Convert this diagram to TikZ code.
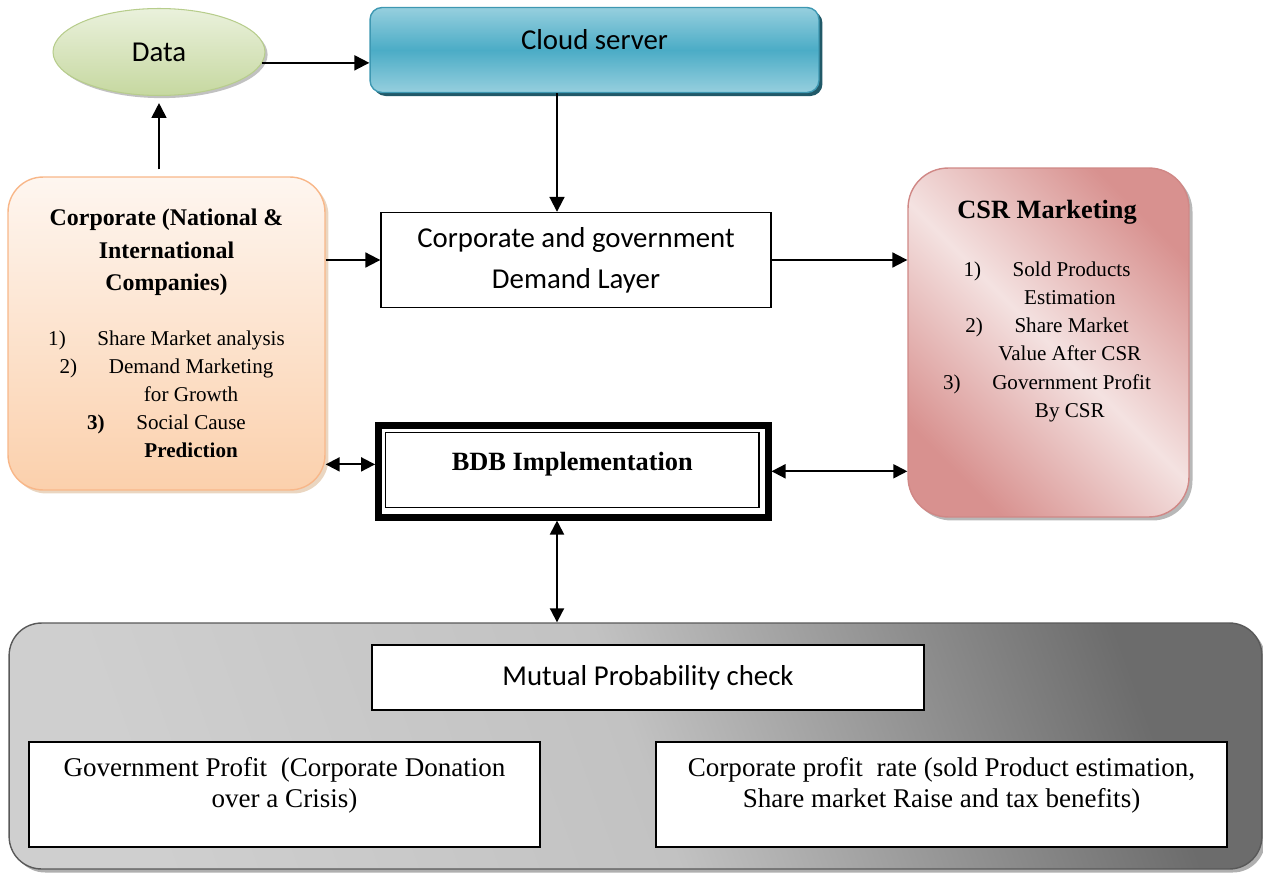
\documentclass[tikz,border=0pt]{standalone}
\usepackage{fontspec}
\setmainfont{Liberation Serif}
\setsansfont{Carlito}
\usetikzlibrary{positioning,shapes.geometric,shadows,arrows.meta}

\definecolor{datatop}{HTML}{EAF1DC}
\definecolor{databot}{HTML}{C6D8A0}
\definecolor{dataline}{HTML}{B7CD8C}
\definecolor{cloudlight}{HTML}{96CFDE}
\definecolor{cloudmid}{HTML}{4BACC6}
\definecolor{cloudline}{HTML}{3E98B2}
\definecolor{cloudshade}{HTML}{215968}
\definecolor{corptop}{HTML}{FEF6F0}
\definecolor{corpbot}{HTML}{FBD0AC}
\definecolor{corpline}{HTML}{F8B789}
\definecolor{csrdark}{HTML}{D8918F}
\definecolor{csrlight}{HTML}{F4E2E1}
\definecolor{csrline}{HTML}{D08886}
\definecolor{panellight}{HTML}{CFCFCF}
\definecolor{panelmid}{HTML}{C2C2C2}
\definecolor{paneldark}{HTML}{6C6C6C}

\newcommand{\ttl}[1]{{\fontsize{13.6}{18.4}\selectfont\bfseries #1}}
\newcommand{\csrttl}[1]{{\fontsize{15}{18}\selectfont\bfseries #1}}

\tikzset{
  edge/.style={->, >={Triangle[length=8.5pt,width=8.5pt]}, line width=1.1pt},
  both/.style={<->, >={Triangle[length=8pt,width=8pt]}, line width=1.1pt},
  sans/.style={font=\sffamily\fontsize{16.4}{23.2}\selectfont},
  serif/.style={font=\fontsize{15.4}{17.8}\selectfont},
  datanode/.style={ellipse, draw=dataline, line width=0.6pt, top color=datatop, bottom color=databot,
    drop shadow={shadow xshift=1.5pt, shadow yshift=-1.5pt, fill=gray!60, opacity=0.8},
    minimum width=4.24cm, minimum height=1.74cm, sans},
  cloudnode/.style={rectangle, rounded corners=0.24cm, draw=cloudline, line width=0.8pt,
    top color=cloudlight, bottom color=cloudlight, middle color=cloudmid,
    drop shadow={shadow xshift=2pt, shadow yshift=-2pt, fill=cloudshade, opacity=1},
    minimum width=8.98cm, minimum height=1.7cm, text height=11pt, text depth=11pt, sans},
  corpnode/.style={rectangle, rounded corners=0.7cm, draw=corpline, line width=0.8pt,
    top color=corptop, bottom color=corpbot,
    drop shadow={shadow xshift=2pt, shadow yshift=-2pt, fill=brown!40, opacity=0.8},
    minimum width=6.34cm, minimum height=6.26cm, align=center, font=\fontsize{12}{16}\selectfont},
  csrnode/.style={rectangle, rounded corners=0.8cm, draw=csrline, line width=0.8pt,
    top color=csrdark, bottom color=csrdark, middle color=csrlight, shading angle=-45,
    drop shadow={shadow xshift=2pt, shadow yshift=-2pt, fill=gray!70, opacity=0.8},
    minimum width=5.62cm, minimum height=6.98cm},
  csrtext/.style={align=center, inner sep=0pt, anchor=north, font=\fontsize{12}{16}\selectfont},
  frame/.style={rectangle, draw, line width=4pt, inner sep=0pt, minimum width=7.79cm, minimum height=1.83cm},
  bdbbox/.style={rectangle, draw, line width=0.6pt, minimum width=7.47cm, minimum height=1.5cm,
    text height=10pt, text depth=10pt, font=\fontsize{15}{18}\selectfont\bfseries},
  panel/.style={rectangle, rounded corners=0.65cm, draw=black!65, line width=0.8pt,
    left color=panellight, right color=paneldark, middle color=panelmid, shading angle=110,
    drop shadow={shadow xshift=2pt, shadow yshift=-2pt, fill=gray!70, opacity=0.9},
    minimum width=25.06cm, minimum height=4.92cm},
  plainbox/.style={rectangle, draw, fill=white, line width=0.8pt, align=center}
}

\begin{document}
\begin{tikzpicture}[x=0.02cm,y=-0.02cm]
    \useasboundingbox (0,0) rectangle (1263,875);
    % Nodes
    \node[datanode] (data) at (159,52) {Data} ; %
    \node[cloudnode] (cloud) at (594.5,50) {Cloud server} ; %
    \node[corpnode] (corp) at (166.5,333.5) {\ttl{Corporate (National \&}\\[2.4pt]
      \ttl{International}\\[2.4pt]
      \ttl{Companies)}\\[15.2pt]
      1)\hspace{1.5em}Share Market analysis\\
      2)\hspace{1.5em}Demand Marketing\\
      \hspace*{28pt}for Growth\\
      \textbf{3)}\hspace{1.5em}Social Cause\\
      \hspace*{28pt}\textbf{Prediction}} ; %
    \node[plainbox, sans, minimum width=7.8cm, minimum height=1.9cm] (dem) at (576,260) {Corporate and government\\Demand Layer} ; %
    \node[csrnode] (csr) at (1048.5,342.5) {} ; %
    \node[csrtext] (csrlist) at (1047,200) {\csrttl{CSR Marketing}\\[17pt]
      1)\hspace{1.5em}Sold Products\\
      \hspace*{26pt}Estimation\\
      2)\hspace{1.5em}Share Market\\
      \hspace*{26pt}Value After CSR\\
      3)\hspace{1.5em}Government Profit\\
      \hspace*{26pt}By CSR} ; %
    \node[frame] (bdb) at (573.3,471.3) {} ; %
    \node[bdbbox] (bdbin) at (572.3,470) {BDB Implementation} ; %
    \node[panel] (panel) at (635.5,746) {} ; %
    \node[plainbox, sans, minimum width=11.04cm, minimum height=1.3cm] (mutual) at (648,677.5) {Mutual Probability check} ; %
    \node[plainbox, serif, minimum width=10.22cm, minimum height=2.1cm, text depth=14pt] (gov) at (284.5,794.5) {Government Profit\ \ (Corporate Donation\\over a Crisis)} ; %
    \node[plainbox, serif, minimum width=11.42cm, minimum height=2.1cm, text depth=14pt] (rate) at (941.5,794.5) {Corporate profit\ \ rate (sold Product estimation,\\Share market Raise and tax benefits)} ; %
    \coordinate (axis) at (557,0) ; %
    % Edges
    \draw[edge] (data.-6) -- (data.-6 -| cloud.west) ; %
    \draw[edge, shorten <=4pt, shorten >=4pt] (corp.north -| data.south) -- (data.south) ; %
    \draw[edge] (cloud.south -| axis) -- (dem.north -| axis) ; %
    \draw[edge] (dem.west -| corp.east) -- (dem.west) ; %
    \draw[edge] (dem.east) -- (dem.east -| csr.west) ; %
    \draw[both] (bdb.178 -| corp.east) -- (bdb.178) ; %
    \draw[both] (bdb.east) -- (bdb.east -| csr.west) ; %
    \draw[both] (bdb.south -| axis) -- (panel.north -| axis) ; %
\end{tikzpicture}
\end{document}
